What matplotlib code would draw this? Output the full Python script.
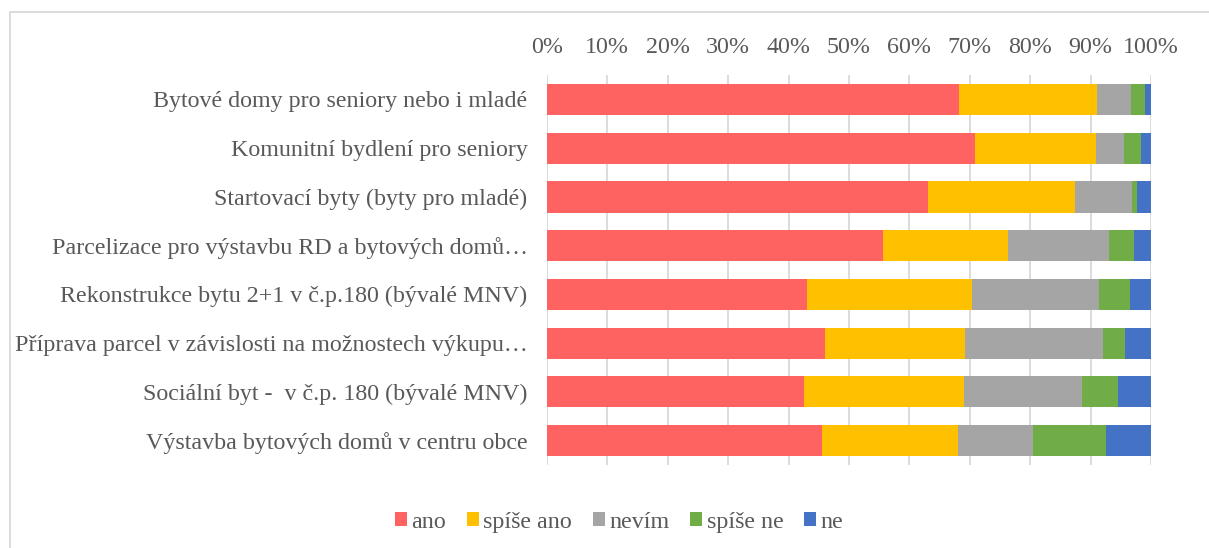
import matplotlib.pyplot as plt
import numpy as np
from matplotlib.patches import Rectangle

plt.rcParams['font.family'] = ['Liberation Serif', 'DejaVu Serif']

# kategorie (shora dolů)
categories = [
    'Bytové domy pro seniory nebo i mladé',
    'Komunitní bydlení pro seniory',
    'Startovací byty (byty pro mladé)',
    'Parcelizace pro výstavbu RD a bytových domů…',
    'Rekonstrukce bytu 2+1 v č.p.180 (bývalé MNV)',
    'Příprava parcel v závislosti na možnostech výkupu…',
    'Sociální byt -  v č.p. 180 (bývalé MNV)',
    'Výstavba bytových domů v centru obce',
]
series_names = ['ano', 'spíše ano', 'nevím', 'spíše ne', 'ne']
ano = [68.3, 70.8, 63.1, 55.6, 43.0, 46.1, 42.5, 45.5]
spise_ano = [22.7, 20.1, 24.3, 20.8, 27.4, 23.1, 26.5, 22.6]
nevim = [5.7, 4.6, 9.5, 16.7, 21.0, 22.9, 19.5, 12.3]
spise_ne = [2.3, 2.8, 0.8, 4.1, 5.1, 3.6, 6.1, 12.1]
ne = [1.0, 1.7, 2.3, 2.8, 3.5, 4.3, 5.4, 7.5]

colors = ['#FF6361', '#FFC000', '#A5A5A5', '#70AD47', '#4472C4']
text_color = '#595959'

fig = plt.figure(figsize=(12.09, 5.48), dpi=100)
ax = fig.add_axes([0.4524, 0.1515, 0.4996, 0.7115])

data = [ano, spise_ano, nevim, spise_ne, ne]
y = np.arange(len(categories))
left = np.zeros(len(categories))
for vals, name, c in zip(data, series_names, colors):
    ax.barh(y, vals, left=left, height=0.64, color=c, label=name, zorder=3)
    left += np.array(vals)

ax.set_xlim(0, 100)
ax.set_ylim(len(categories) - 0.5, -0.5)
ax.set_yticks(y)
ax.set_yticklabels(categories, fontsize=17.3, color=text_color)
ax.set_xticks(np.arange(0, 101, 10))
ax.set_xticklabels([f'{v}%' for v in range(0, 101, 10)], fontsize=17.3, color=text_color)
ax.xaxis.tick_top()
ax.tick_params(axis='x', length=0, pad=12)
ax.tick_params(axis='y', length=0, pad=14)
ax.grid(axis='x', color='#D9D9D9', linewidth=1.3, zorder=0)
for s in ax.spines.values():
    s.set_visible(False)

leg = fig.legend(loc='center', bbox_to_anchor=(0.512, 0.047), ncol=5, frameon=False,
                 fontsize=17.3, handlelength=0.5, handleheight=0.5,
                 handletextpad=0.2, columnspacing=0.85)
for t in leg.get_texts():
    t.set_color(text_color)

# rámeček grafu
fig.patches.append(Rectangle((10 / 1209, -0.1), 1.2, 1 - 12 / 548 + 0.1,
                             transform=fig.transFigure, fill=False,
                             edgecolor='#D9D9D9', linewidth=1.3))

fig.savefig('out.png', dpi=100)
